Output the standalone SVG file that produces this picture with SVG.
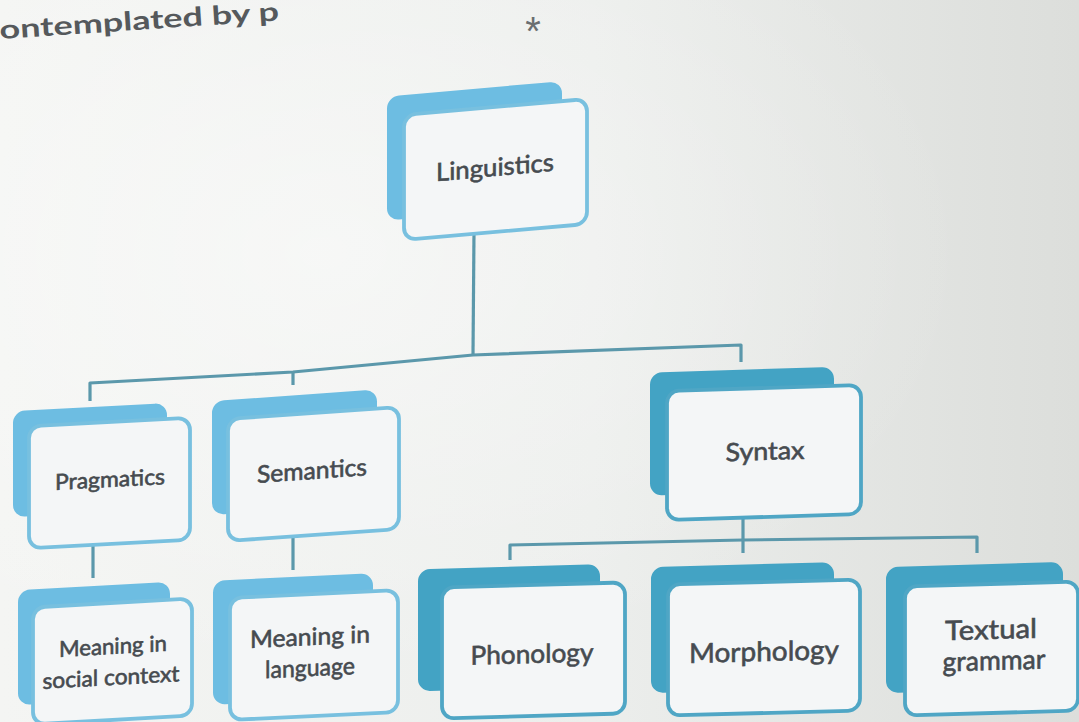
<svg xmlns="http://www.w3.org/2000/svg" width="1079" height="722" viewBox="0 0 1079 722">
  <defs>
    <linearGradient id="paper" x1="0" y1="0" x2="1" y2="0">
      <stop offset="0" stop-color="#f4f5f3"/>
      <stop offset="0.55" stop-color="#eceeec"/>
      <stop offset="1" stop-color="#dcdedb"/>
    </linearGradient>
    <radialGradient id="glow" cx="0.3" cy="0.35" r="0.6">
      <stop offset="0" stop-color="#ffffff" stop-opacity="0.45"/>
      <stop offset="1" stop-color="#ffffff" stop-opacity="0"/>
    </radialGradient>
    <style>
      .backL { fill: #6dbde2; }
      .backR { fill: #43a3c4; }
      .front { fill: #f4f6f7; stroke-width: 3.8; }
      .frontL { stroke: #78c0df; }
      .frontR { stroke: #4fa6c5; }
      .lbl { font-family: Lato, "Liberation Sans", sans-serif; fill: #464b50; text-anchor: middle; stroke: #464b50; stroke-width: 0.6; }
      .conn { fill: none; stroke: #5b98ab; stroke-width: 3.2; stroke-linejoin: round; }
      .page { font-family: Lato, "Liberation Sans", sans-serif; fill: #55595c; font-weight: bold; }
    </style>
  </defs>

  <rect x="0" y="0" width="1079" height="722" fill="url(#paper)"/>
  <rect x="0" y="0" width="1079" height="722" fill="url(#glow)"/>

  <text class="page" x="0" y="39" font-size="26" textLength="280" lengthAdjust="spacingAndGlyphs" transform="rotate(-3.8 0 39)">ontemplated by p</text>
  <text x="533" y="45" font-family="'Liberation Sans', sans-serif" font-size="40" fill="#6a6e70" text-anchor="middle">*</text>

  <g id="connectors">
    <polyline class="conn" points="474,232 473,355"/>
    <polyline class="conn" points="90,401 90,383 293,372 473,355 741,345 741,362"/>
    <polyline class="conn" points="293,372 293,385"/>
    <polyline class="conn" points="93,546 93,578"/>
    <polyline class="conn" points="293,535 293,570"/>
    <polyline class="conn" points="743,518 743,553"/>
    <polyline class="conn" points="510,560 510,545 743,540 977,537 977,553"/>
  </g>

  <g id="node-linguistics" transform="translate(495 170) skewY(-5) translate(-495 -170)">
    <rect class="backL" x="387" y="87" width="175" height="124" rx="12"/>
    <rect class="front frontL" x="404" y="107" width="183" height="125" rx="12"/>
    <text class="lbl" x="495" y="176" font-size="25" textLength="118" lengthAdjust="spacingAndGlyphs">Linguistics</text>
  </g>

  <g id="node-pragmatics" transform="translate(110 480) skewY(-3) translate(-110 -480)">
    <rect class="backL" x="13" y="406" width="154" height="106" rx="12"/>
    <rect class="front frontL" x="29" y="422" width="161" height="122" rx="12"/>
    <text class="lbl" x="110" y="487" font-size="22" textLength="110" lengthAdjust="spacingAndGlyphs">Pragmatics</text>
  </g>

  <g id="node-semantics" transform="translate(313 472) skewY(-4) translate(-313 -472)">
    <rect class="backL" x="212" y="394" width="165" height="114" rx="12"/>
    <rect class="front frontL" x="228" y="413" width="171" height="122" rx="12"/>
    <text class="lbl" x="312" y="479" font-size="24" textLength="110" lengthAdjust="spacingAndGlyphs">Semantics</text>
  </g>

  <g id="node-social" transform="translate(112 660) skewY(-3.2) translate(-112 -660)">
    <rect class="backL" x="18" y="585" width="152" height="115" rx="12"/>
    <rect class="front frontL" x="33" y="603" width="159" height="117" rx="12"/>
    <text class="lbl" x="113" y="654" font-size="22" textLength="108" lengthAdjust="spacingAndGlyphs">Meaning in</text>
    <text class="lbl" x="111" y="685" font-size="22" textLength="137" lengthAdjust="spacingAndGlyphs">social context</text>
  </g>

  <g id="node-language" transform="translate(314 650) skewY(-2.7) translate(-314 -650)">
    <rect class="backL" x="213" y="576" width="160" height="124" rx="12"/>
    <rect class="front frontL" x="230" y="594" width="168" height="122" rx="12"/>
    <text class="lbl" x="310" y="645" font-size="24" textLength="120" lengthAdjust="spacingAndGlyphs">Meaning in</text>
    <text class="lbl" x="310" y="676" font-size="24" textLength="90" lengthAdjust="spacingAndGlyphs">language</text>
  </g>

  <g id="node-syntax" transform="translate(764 453) skewY(-1.8) translate(-764 -453)">
    <rect class="backR" x="650" y="369" width="184" height="123" rx="12"/>
    <rect class="front frontR" x="667" y="388" width="194" height="129" rx="12"/>
    <text class="lbl" x="765" y="460" font-size="25" textLength="79" lengthAdjust="spacingAndGlyphs">Syntax</text>
  </g>

  <g id="node-phonology" transform="translate(533 650) skewY(-1.6) translate(-533 -650)">
    <rect class="backR" x="418" y="566" width="182" height="122" rx="12"/>
    <rect class="front frontR" x="442" y="585" width="183" height="131" rx="12"/>
    <text class="lbl" x="532" y="663" font-size="26" textLength="123" lengthAdjust="spacingAndGlyphs">Phonology</text>
  </g>

  <g id="node-morphology" transform="translate(764 650) skewY(-1.5) translate(-764 -650)">
    <rect class="backR" x="651" y="564" width="183" height="126" rx="12"/>
    <rect class="front frontR" x="668" y="582" width="192" height="131" rx="12"/>
    <text class="lbl" x="764" y="661" font-size="27" textLength="150" lengthAdjust="spacingAndGlyphs">Morphology</text>
  </g>

  <g id="node-textual" transform="translate(992 650) skewY(-1.6) translate(-992 -650)">
    <rect class="backR" x="886" y="564" width="177" height="126" rx="12"/>
    <rect class="front frontR" x="905" y="584" width="173" height="129" rx="12"/>
    <text class="lbl" x="991" y="639" font-size="27" textLength="92" lengthAdjust="spacingAndGlyphs">Textual</text>
    <text class="lbl" x="994" y="670" font-size="27" textLength="103" lengthAdjust="spacingAndGlyphs">grammar</text>
  </g>
</svg>
